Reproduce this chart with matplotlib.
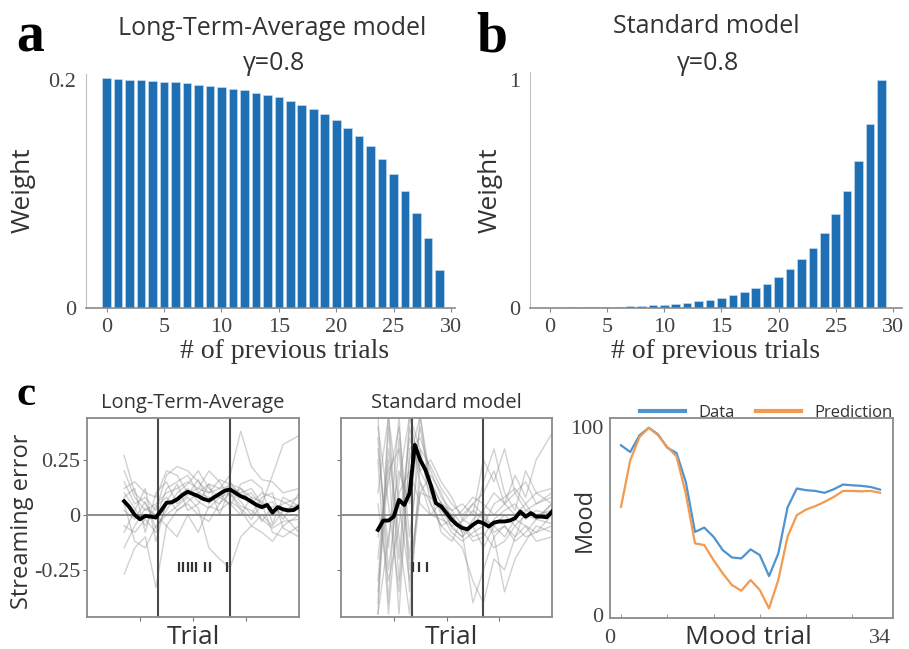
import numpy as np
import matplotlib
matplotlib.use('Agg')
import matplotlib.pyplot as plt

SANS = 'Open Sans'
SERIF = 'Liberation Serif'
TXT = '#333333'
BAR_BLUE = '#1f6fb5'

# weights of the previous 30 trials
prev_trials = np.arange(30)
lta_weight = [0.202, 0.201, 0.200, 0.200, 0.199, 0.198, 0.198, 0.197, 0.196, 0.195,
              0.194, 0.192, 0.191, 0.189, 0.187, 0.185, 0.182, 0.178, 0.175, 0.170,
              0.165, 0.158, 0.151, 0.142, 0.131, 0.118, 0.103, 0.083, 0.061, 0.033]
std_weight = [0.002, 0.002, 0.003, 0.003, 0.003, 0.004, 0.006, 0.009, 0.010, 0.014,
              0.014, 0.019, 0.023, 0.029, 0.033, 0.043, 0.058, 0.068, 0.087, 0.107,
              0.137, 0.169, 0.214, 0.263, 0.330, 0.411, 0.512, 0.645, 0.805, 1.000]

# streaming error, group mean per trial
trial_t = np.arange(7, 41)
lta_mean = [0.062, 0.035, 0.000, -0.020, -0.005, -0.008, -0.012, 0.020, 0.055, 0.057,
            0.070, 0.090, 0.105, 0.095, 0.085, 0.072, 0.065, 0.080, 0.095, 0.110,
            0.115, 0.100, 0.085, 0.075, 0.060, 0.045, 0.035, 0.045, 0.010, 0.035,
            0.025, 0.020, 0.022, 0.038]
std_mean = [-0.068, -0.026, -0.026, -0.008, 0.068, 0.045, 0.098, 0.318, 0.250, 0.205,
            0.136, 0.053, 0.038, 0.008, -0.023, -0.045, -0.060, -0.065, -0.045, -0.030,
            -0.038, -0.053, -0.035, -0.030, -0.030, -0.026, -0.015, 0.015, -0.008, 0.008,
            -0.008, -0.008, -0.011, 0.015]

# individual subjects (sampled every other trial)
trace_t = [7, 9, 11, 13, 15, 17, 19, 21, 23, 25, 27, 29, 31, 33, 35, 37, 40]
lta_traces = [
    [0.27, 0.10, 0.05, -0.02, 0.12, 0.15, 0.18, 0.10, 0.14, 0.12, 0.18, 0.38, 0.22, 0.16, 0.15, 0.10, 0.12],
    [-0.27, -0.15, -0.10, -0.33, -0.05, 0.02, 0.05, 0.00, -0.03, 0.05, 0.10, 0.02, -0.05, 0.00, -0.05, 0.02, 0.05],
    [0.15, 0.05, 0.08, 0.02, 0.18, 0.22, 0.20, 0.15, 0.10, 0.12, 0.13, 0.10, 0.12, 0.05, 0.18, 0.32, 0.36],
    [0.05, -0.12, -0.15, -0.05, 0.00, 0.04, 0.08, 0.03, -0.15, -0.20, -0.24, -0.10, -0.05, -0.08, -0.12, -0.05, 0.00],
    [0.20, 0.08, 0.02, 0.05, 0.10, 0.12, 0.15, 0.12, 0.10, 0.16, 0.14, 0.12, 0.08, 0.06, 0.02, 0.05, 0.08],
    [-0.05, -0.08, -0.02, -0.08, 0.05, 0.08, 0.12, 0.06, 0.03, 0.08, 0.10, 0.04, 0.02, -0.02, -0.06, -0.03, -0.02],
    [0.10, 0.03, -0.05, 0.04, 0.08, 0.02, 0.06, 0.10, 0.08, 0.05, 0.15, 0.08, 0.10, 0.04, 0.06, -0.02, 0.10],
    [-0.15, -0.05, 0.03, 0.00, -0.05, -0.10, 0.00, -0.08, 0.04, 0.02, 0.06, 0.03, -0.02, 0.05, -0.08, -0.10, -0.05],
    [0.12, 0.15, 0.10, 0.08, 0.20, 0.18, 0.10, 0.12, 0.20, 0.15, 0.08, 0.12, 0.05, 0.10, 0.08, 0.06, 0.02],
    [0.02, -0.02, 0.06, -0.06, 0.02, 0.10, 0.14, 0.20, 0.12, 0.08, 0.05, 0.00, 0.08, -0.03, 0.04, 0.00, -0.08],
    [0.08, 0.12, -0.08, 0.10, 0.15, 0.05, 0.09, 0.16, 0.05, 0.10, 0.04, 0.14, 0.16, 0.12, -0.04, 0.08, 0.04],
    [-0.08, 0.02, 0.12, -0.12, 0.06, 0.14, 0.02, 0.05, 0.14, 0.00, 0.12, 0.06, 0.00, 0.08, 0.10, -0.06, -0.10],
]
std_traces = [
    [-0.45, 0.40, -0.30, 0.45, 0.20, 0.10, 0.02, -0.05, -0.10, -0.05, 0.02, 0.10, 0.05, 0.00, 0.05, -0.02, 0.05],
    [0.45, -0.40, 0.35, -0.20, 0.45, 0.15, 0.05, 0.00, -0.08, -0.40, -0.25, -0.10, -0.05, -0.10, 0.02, 0.00, 0.02],
    [-0.20, 0.25, -0.45, 0.30, 0.35, 0.20, 0.08, 0.02, 0.05, 0.00, 0.25, 0.15, 0.30, 0.10, 0.15, 0.05, 0.10],
    [0.30, -0.15, 0.45, -0.35, 0.10, 0.18, 0.10, -0.02, -0.05, -0.10, -0.08, -0.15, -0.12, -0.05, -0.10, -0.08, -0.05],
    [-0.45, -0.10, 0.20, 0.05, 0.40, 0.12, 0.00, -0.08, -0.12, -0.08, -0.05, 0.05, 0.08, 0.12, 0.05, 0.10, 0.12],
    [0.10, 0.45, -0.20, 0.40, 0.15, 0.05, -0.05, -0.10, -0.15, -0.30, -0.40, -0.20, -0.25, -0.10, -0.05, -0.08, 0.00],
    [-0.10, 0.15, 0.40, -0.10, 0.30, 0.22, 0.12, 0.05, 0.00, 0.05, 0.10, 0.20, 0.05, 0.18, 0.08, 0.25, 0.37],
    [0.25, -0.45, 0.10, 0.20, 0.05, 0.00, -0.02, -0.05, -0.03, 0.02, -0.02, -0.05, -0.10, -0.02, -0.05, -0.12, -0.10],
    [-0.30, 0.30, -0.10, -0.45, 0.25, 0.15, 0.05, 0.02, -0.05, -0.12, -0.10, -0.02, 0.02, 0.05, -0.02, 0.02, 0.00],
    [0.40, 0.05, -0.35, 0.25, 0.45, 0.10, -0.08, -0.12, -0.02, 0.05, 0.00, -0.10, -0.35, -0.20, -0.12, -0.05, -0.08],
    [-0.35, 0.20, 0.30, -0.25, 0.10, 0.08, 0.03, 0.00, -0.08, -0.05, 0.15, 0.30, 0.10, 0.02, 0.20, 0.10, 0.05],
    [0.05, -0.30, -0.05, 0.35, 0.20, 0.25, 0.15, 0.08, -0.02, -0.05, -0.15, -0.05, 0.00, -0.05, 0.00, -0.02, 0.05],
    [0.35, -0.25, 0.15, 0.45, 0.30, 0.05, -0.05, -0.02, 0.02, 0.08, 0.05, 0.00, 0.05, 0.10, 0.02, 0.05, 0.08],
    [-0.40, 0.45, 0.05, -0.30, 0.15, 0.00, 0.06, -0.06, -0.10, -0.02, 0.02, -0.08, -0.05, -0.12, -0.08, -0.02, -0.04],
]
block_edges = [13.4, 27.0]
lta_sig = [17.4, 18.2, 19.0, 19.8, 20.6, 22.2, 23.2, 26.4]
std_sig = [13.7, 14.8, 16.3]
sig_level = -0.235

# mood ratings
mood_idx = np.arange(29)
mood_data = [90.3, 86.7, 95.6, 99.6, 96.1, 89.0, 86.2, 70.8, 44.2, 46.5,
             41.6, 34.5, 30.6, 30.1, 34.9, 31.9, 20.7, 32.7, 57.2, 67.3,
             66.4, 66.0, 65.0, 66.9, 69.4, 69.0, 68.7, 68.1, 66.7]
mood_pred = [57.5, 82.3, 94.7, 99.6, 95.6, 89.4, 84.4, 64.6, 38.1, 37.2,
             29.2, 22.1, 15.9, 12.9, 18.6, 13.3, 3.5, 18.6, 41.6, 53.1,
             56.1, 57.9, 60.2, 62.8, 66.0, 66.0, 65.8, 66.0, 65.0]

W, H = 909, 649
fig = plt.figure(figsize=(W / 100, H / 100), dpi=100)


def fx(px):
    return px / W


def fy(py):
    return 1 - py / H


def rect(l, t, r, b):
    return [fx(l), fy(b), fx(r) - fx(l), fy(t) - fy(b)]


def serif_ticks(ax, size=16):
    for lab in ax.get_xticklabels() + ax.get_yticklabels():
        lab.set_fontfamily(SERIF)
        lab.set_fontsize(size)
        lab.set_color('#444444')


def weight_panel(box, w, top, ytick, ylab, xlim):
    ax = fig.add_axes(box)
    ax.bar(prev_trials, w, width=0.75, color=BAR_BLUE, edgecolor='#cfe1f1', linewidth=0.4)
    ax.set_xlim(xlim)
    ax.set_ylim(0, top)
    ax.spines['top'].set_visible(False)
    ax.spines['right'].set_visible(False)
    ax.spines['left'].set_color('#c0c0c0')
    ax.spines['bottom'].set_color('#8a8a8a')
    ax.spines['bottom'].set_linewidth(1.2)
    ax.set_xticks(range(0, 31, 5))
    ax.set_yticks([0, ytick], ['0', ylab])
    ax.tick_params(axis='y', length=0, pad=7)
    ax.tick_params(axis='x', length=3, color='#8a8a8a', pad=4)
    serif_ticks(ax)
    return ax


ax_a = weight_panel(rect(86, 74, 455, 308), lta_weight, 0.2053, 0.2, '0.2', (-1.8, 30.35))
ax_b = weight_panel(rect(530, 72, 902, 308), std_weight, 1.035, 1.0, '1', (-1.75, 30.8))

for cx, title, by in [(272, 'Long-Term-Average model', 35), (706, 'Standard model', 33)]:
    fig.text(fx(cx), fy(by), title, family=SANS, fontsize=18, color=TXT, ha='center', va='baseline')
    fig.text(fx(cx + 2), fy(70), 'γ=0.8', family=[SANS, 'DejaVu Sans'], fontsize=18, color=TXT,
             ha='center', va='baseline')
for cx in [23, 490]:
    fig.text(fx(cx), fy(190), 'Weight', family=SANS, fontsize=19, color=TXT,
             rotation=90, ha='center', va='center')
for cx in [285, 716]:
    fig.text(fx(cx), fy(358), '# of previous trials', family=SERIF, fontsize=20, color=TXT,
             ha='center', va='baseline')

fig.text(fx(16), fy(52), 'a', family=SERIF, fontsize=40, weight='bold', va='baseline')
fig.text(fx(476), fy(52), 'b', family=SERIF, fontsize=40, weight='bold', va='baseline')
fig.text(fx(16), fy(405), 'c', family=SERIF, fontsize=31, weight='bold', va='baseline')


def trial_panel(box, title, mean, traces, sig, show_labels):
    ax = fig.add_axes(box)
    for tr in traces:
        ax.plot(trace_t, tr, color='#8c8c8c', alpha=0.4, lw=1)
    ax.axhline(0, color='#7a7a7a', lw=1.2)
    for v in block_edges:
        ax.axvline(v, color='#4a4a4a', lw=1.5)
    ax.plot(trial_t, mean, color='black', lw=2.8, zorder=5)
    ax.plot(sig, [sig_level] * len(sig), ls='none', marker='|', ms=7, mew=1.6, color='#333333')
    ax.set_xlim(0, 40)
    ax.set_ylim(-0.464, 0.44)
    ax.set_xticks([10, 20, 30], [])
    ax.set_yticks([-0.25, 0, 0.25])
    if show_labels:
        ax.set_yticklabels(['-0.25', '0', '0.25'])
    else:
        ax.set_yticklabels([])
    ax.tick_params(length=3, color='#777777', pad=2)
    for s in ax.spines.values():
        s.set_color('#8a8a8a')
        s.set_linewidth(1.3)
    serif_ticks(ax)
    ax.text(0.5, 1.05, title, transform=ax.transAxes, family=SANS, fontsize=14.5,
            color=TXT, ha='center', va='baseline')
    return ax


ax_c1 = trial_panel(rect(87, 418, 299, 617), 'Long-Term-Average', lta_mean, lta_traces, lta_sig, True)
ax_c2 = trial_panel(rect(341, 418, 552, 617), 'Standard model', std_mean, std_traces, std_sig, False)
for cx in [193, 451]:
    fig.text(fx(cx), fy(644), 'Trial', family=SANS, fontsize=19, color=TXT,
             ha='center', va='baseline')
fig.text(fx(22), fy(521), 'Streaming error', family=SANS, fontsize=17, color=TXT,
         rotation=90, ha='center', va='center')

ax_m = fig.add_axes(rect(610, 418, 893, 618))
ax_m.plot(mood_idx, mood_data, color='#4f93cf', lw=1.6, label='Data')
ax_m.plot(mood_idx, mood_pred, color='#f29a50', lw=1.6, label='Prediction')
ax_m.set_xlim(-1.19, 29.4)
ax_m.set_ylim(-1.6, 104.8)
ax_m.set_xticks([-1.19, 28], ['0', '34'])
ax_m.set_xticks([0, 5, 10, 15, 20, 25], minor=True)
ax_m.set_yticks([0, 100], ['0', '100'])
ax_m.tick_params(axis='both', which='major', length=0, pad=5)
ax_m.tick_params(axis='x', which='major', pad=8)
ax_m.tick_params(axis='x', which='minor', length=3, direction='in', color='#8a8a8a')
for s in ax_m.spines.values():
    s.set_color('#8a8a8a')
    s.set_linewidth(1.3)
serif_ticks(ax_m)
leg = ax_m.legend(ncol=2, frameon=False, loc='lower right', bbox_to_anchor=(1.0, 0.985),
                  borderaxespad=0, borderpad=0, handlelength=2.7, columnspacing=1.3,
                  handletextpad=0.8, prop={'family': SANS, 'size': 12})
for line in leg.get_lines():
    line.set_linewidth(3)
for t in leg.get_texts():
    t.set_color(TXT)
fig.text(fx(585), fy(520), 'Mood', family=SANS, fontsize=17, color=TXT,
         rotation=90, ha='center', va='center')
fig.text(fx(748), fy(644), 'Mood trial', family=SANS, fontsize=19, color=TXT,
         ha='center', va='baseline')

fig.savefig('out.png', dpi=100)
